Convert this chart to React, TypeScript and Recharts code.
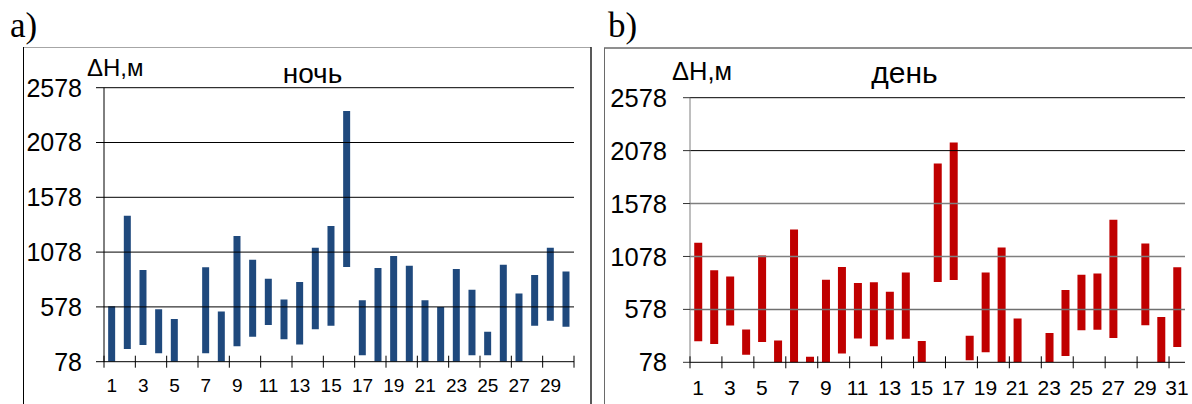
import React from 'react';
import { BarChart, Bar, XAxis, YAxis, ReferenceLine } from 'recharts';

// ---------- data ----------
const nightDays = ['1','2','3','4','5','6','7','8','9','10','11','12','13','14','15','16','17','18','19','20','21','22','23','24','25','26','27','28','29','30'];
const nightLow = [78, 195, 230, 155, 78, null, 155, 78, 220, 305, 413, 283, 235, 375, 405, 942, 136, 78, 78, 78, 78, 78, 78, 136, 136, 78, 78, 406, 452, 397];
const nightHigh = [585, 1410, 915, 557, 468, null, 940, 535, 1225, 1008, 834, 645, 805, 1118, 1316, 2365, 638, 933, 1042, 954, 638, 577, 923, 735, 352, 963, 701, 869, 1118, 902];

const dayDays = ['1','2','3','4','5','6','7','8','9','10','11','12','13','14','15','16','17','18','19','20','21','22','23','24','25','26','27','28','29','30','31'];
const dayLow = [276, 251, 426, 150, 269, 72, 65, 53, 72, 160, 304, 229, 293, 301, 78, 836, 855, 97, 172, 78, 78, null, 78, 138, 380, 386, 308, null, 427, 59, 223];
const dayHigh = [1208, 947, 888, 389, 1088, 285, 1333, 131, 859, 979, 828, 834, 745, 927, 279, 1956, 2154, 330, 927, 1163, 493, null, 355, 760, 905, 918, 1424, null, 1201, 506, 977];

const yTicks = [78, 578, 1078, 1578, 2078, 2578];
const yLabel = 'ΔH,м';
const nightTitle = 'ночь';
const dayTitle = 'день';
const panelA = 'a)';
const panelB = 'b)';

// ---------- styles ----------
const SANS = '"Liberation Sans", Arial, sans-serif';
const SERIF = '"Liberation Serif", "Times New Roman", serif';
const NIGHT_COLOR = '#1F497D';
const DAY_COLOR = '#C00000';
const nightGridStyle: Record<number, { stroke: string; width: number }> = {
  578: { stroke: '#000', width: 1 },
  1078: { stroke: '#000', width: 1 },
  1578: { stroke: '#000', width: 1 },
  2078: { stroke: '#000', width: 1 },
  2578: { stroke: '#000', width: 1 },
};
const dayGridStyle: Record<number, { stroke: string; width: number }> = {
  578: { stroke: '#6f6f6f', width: 1.5 },
  1078: { stroke: '#7f7f7f', width: 1.5 },
  1578: { stroke: '#7f7f7f', width: 1.5 },
  2078: { stroke: '#000', width: 1 },
  2578: { stroke: '#000', width: 1 },
};

const build = (days: string[], lo: (number | null)[], hi: (number | null)[]) =>
  days.map((d, i) => ({
    day: d,
    range: lo[i] == null || hi[i] == null ? undefined : [lo[i] as number, hi[i] as number],
  }));

const nightData = build(nightDays, nightLow, nightHigh);
const dayData = build(dayDays, dayLow, dayHigh);

const makeTick = (band: number, count: number, fontSize: number, dy: number) => (props: any) => {
  const { x, y, payload, index } = props;
  const even = index % 2 === 0;
  return (
    <g>
      {even && <line x1={x - band / 2} x2={x - band / 2} y1={y - 6} y2={y + 6} stroke="#000" strokeWidth={1} />}
      {index === count - 1 && count % 2 === 0 && (
        <line x1={x + band / 2} x2={x + band / 2} y1={y - 6} y2={y + 6} stroke="#000" strokeWidth={1} />
      )}
      {even && (
        <text x={x} y={y + dy} textAnchor="middle" fontSize={fontSize} fontFamily={SANS} fill="#000">
          {payload.value}
        </text>
      )}
    </g>
  );
};

interface PanelProps {
  data: any[];
  left: number;
  width: number;
  top: number;
  right: number;
  yAxisWidth: number;
  xAxisHeight: number;
  color: string;
  grid: Record<number, { stroke: string; width: number }>;
  yFont: number;
  yTickSize: number;
  yTickMargin: number;
  yAxisStroke: string;
  yTickStroke: string;
  xFont: number;
  xDy: number;
}

const Panel = (p: PanelProps) => {
  const band = (p.width - p.right - p.yAxisWidth) / p.data.length;
  return (
    <div style={{ position: 'absolute', left: p.left, top: 0 }}>
      <BarChart
        width={p.width}
        height={404}
        data={p.data}
        margin={{ top: p.top, right: p.right, bottom: 0, left: 0 }}
        barCategoryGap="26.5%"
      >
        {yTicks.filter((t) => t !== 78).map((t) => (
          <ReferenceLine key={t} y={t} stroke={p.grid[t].stroke} strokeWidth={p.grid[t].width} />
        ))}
        <XAxis
          dataKey="day"
          interval={0}
          height={p.xAxisHeight}
          tickLine={false}
          tickSize={0}
          tickMargin={0}
          axisLine={{ stroke: '#000', strokeWidth: 1 }}
          tick={makeTick(band, p.data.length, p.xFont, p.xDy)}
        />
        <YAxis
          type="number"
          domain={[78, 2578]}
          ticks={yTicks}
          interval={0}
          allowDataOverflow
          width={p.yAxisWidth}
          tickSize={p.yTickSize}
          tickMargin={p.yTickMargin}
          axisLine={{ stroke: p.yAxisStroke, strokeWidth: 1 }}
          tickLine={{ stroke: p.yTickStroke, strokeWidth: 1 }}
          tick={{ fill: '#000', fontSize: p.yFont, fontFamily: SANS }}
        />
        <Bar dataKey="range" fill={p.color} isAnimationActive={false} />
      </BarChart>
    </div>
  );
};

export default function App() {
  return (
    <div
      style={{
        position: 'absolute',
        left: 0,
        top: 0,
        width: 1192,
        height: 404,
        background: '#fff',
        overflow: 'hidden',
      }}
    >
      <svg width={1192} height={404} style={{ position: 'absolute', left: 0, top: 0 }}>
        {/* frame a */}
        <line x1={23} y1={47.5} x2={591} y2={47.5} stroke="#a6a6a6" strokeWidth={1} />
        <line x1={23.5} y1={47} x2={23.5} y2={404} stroke="#000" strokeWidth={1} />
        <line x1={591} y1={47} x2={591} y2={404} stroke="#222" strokeWidth={1.5} />
        {/* frame b */}
        <line x1={604} y1={48} x2={1192} y2={48} stroke="#6a6a6a" strokeWidth={1.5} />
        <line x1={604.5} y1={48} x2={604.5} y2={404} stroke="#6a6a6a" strokeWidth={1} />
        <text x={10} y={37} fontFamily={SERIF} fontSize={35} fill="#000">{panelA}</text>
        <text x={608} y={37} fontFamily={SERIF} fontSize={35} fill="#000">{panelB}</text>
        <text x={87} y={76} fontFamily={SANS} fontSize={24} fill="#000">{yLabel}</text>
        <text x={672} y={80} fontFamily={SANS} fontSize={25.5} fill="#000">{yLabel}</text>
        <text x={312.5} y={82.5} textAnchor="middle" fontFamily={SANS} fontSize={28} fill="#000">{nightTitle}</text>
        <text x={904.5} y={83} textAnchor="middle" fontFamily={SANS} fontSize={30} fill="#000">{dayTitle}</text>
      </svg>
      <Panel
        data={nightData}
        left={0}
        width={600}
        top={87.7}
        right={26}
        yAxisWidth={104}
        xAxisHeight={42.3}
        color={NIGHT_COLOR}
        grid={nightGridStyle}
        yFont={25}
        yTickSize={8}
        yTickMargin={14}
        yAxisStroke="#000"
        yTickStroke="#000"
        xFont={19}
        xDy={30}
      />
      <Panel
        data={dayData}
        left={590}
        width={602}
        top={97.7}
        right={7}
        yAxisWidth={100}
        xAxisHeight={41.7}
        color={DAY_COLOR}
        grid={dayGridStyle}
        yFont={25.5}
        yTickSize={7}
        yTickMargin={16}
        yAxisStroke="#7f7f7f"
        yTickStroke="#333"
        xFont={21}
        xDy={33}
      />
    </div>
  );
}
